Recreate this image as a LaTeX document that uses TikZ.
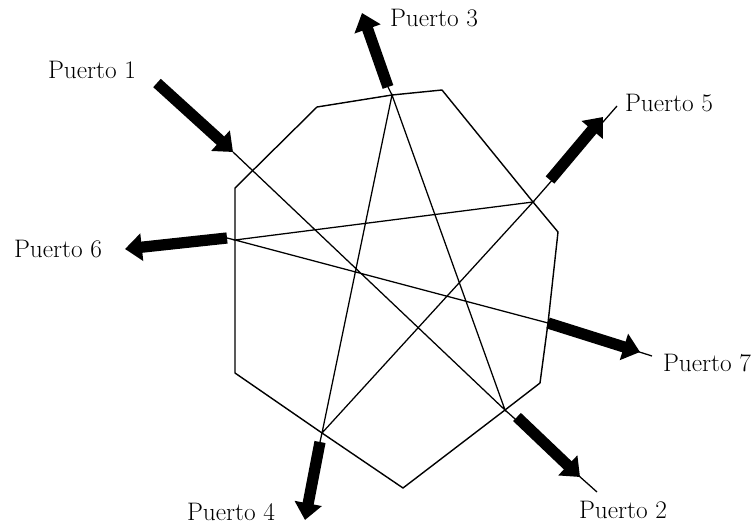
\documentclass[tikz,border=0pt]{standalone}
\usetikzlibrary{arrows.meta}

\begin{document}
\begin{tikzpicture}[
    x=0.025cm, y=-0.025cm,
    edge/.style={line width=1pt, line join=round},
    beam/.style={line width=0.9pt},
    portarrow/.style={line width=8pt, -{Triangle[width=19pt,length=12pt]}},
    portlabel/.style={font=\fontsize{18}{20}\selectfont, inner sep=0pt}
]
\useasboundingbox (0,0) rectangle (755,525);

% Ports
\coordinate (p1) at (233,152);
\coordinate (p2) at (505,410);
\coordinate (p3) at (392,95);
\coordinate (p4) at (322,433);
\coordinate (p5) at (533,202);
\coordinate (p6) at (235,240);
\coordinate (p7) at (548,323);

% Vertices
\coordinate (v1) at (317,107);
\coordinate (v2) at (442,90);
\coordinate (v3) at (558,232);
\coordinate (v4) at (540,383);
\coordinate (v5) at (403,488);
\coordinate (v6) at (235,373);
\coordinate (v7) at (235,188);

% Body
\draw[edge] (v1) -- (p3) -- (v2) -- (p5) -- (v3) -- (p7) -- (v4) -- (p2)
    -- (v5) -- (p4) -- (v6) -- (p6) -- (v7) -- cycle;

% Beam path
\draw[beam] (p1) -- (p2) -- (p3) -- (p4) -- (p5) -- (p6) -- (p7);

% Arrow ends
\coordinate (in1) at (157,83);
\coordinate (b2) at (517,417);  \coordinate (t2) at (580,477);  \coordinate (e2) at (597,492);
\coordinate (b3) at (388,87);   \coordinate (t3) at (362,13);
\coordinate (b4) at (320,442);  \coordinate (t4) at (305,520);
\coordinate (b5) at (550,180);  \coordinate (t5) at (603,117);  \coordinate (e5) at (617,106);
\coordinate (b6) at (227,238);  \coordinate (t6) at (125,249);
\coordinate (t7) at (640,352);  \coordinate (e7) at (652,356);

\draw[beam] (p2) -- (e2);
\draw[beam] (p3) -- (b3);
\draw[beam] (p4) -- (b4);
\draw[beam] (p5) -- (e5);
\draw[beam] (p6) -- (b6);
\draw[beam] (p7) -- (e7);

% Arrows
\draw[portarrow] (in1) -- (p1);
\draw[portarrow] (b2) -- (t2);
\draw[portarrow] (b3) -- (t3);
\draw[portarrow] (b4) -- (t4);
\draw[portarrow] (b5) -- (t5);
\draw[portarrow] (b6) -- (t6);
\draw[portarrow] (p7) -- (t7);

% Labels
\node[portlabel] (l1) at (92,70) {Puerto 1};
\node[portlabel] (l2) at (623,510) {Puerto 2};
\node[portlabel] (l3) at (434,18) {Puerto 3};
\node[portlabel] (l4) at (231,512) {Puerto 4};
\node[portlabel] (l5) at (669,103) {Puerto 5};
\node[portlabel] (l6) at (58,249) {Puerto 6};
\node[portlabel] (l7) at (707,363) {Puerto 7};

\end{tikzpicture}
\end{document}
